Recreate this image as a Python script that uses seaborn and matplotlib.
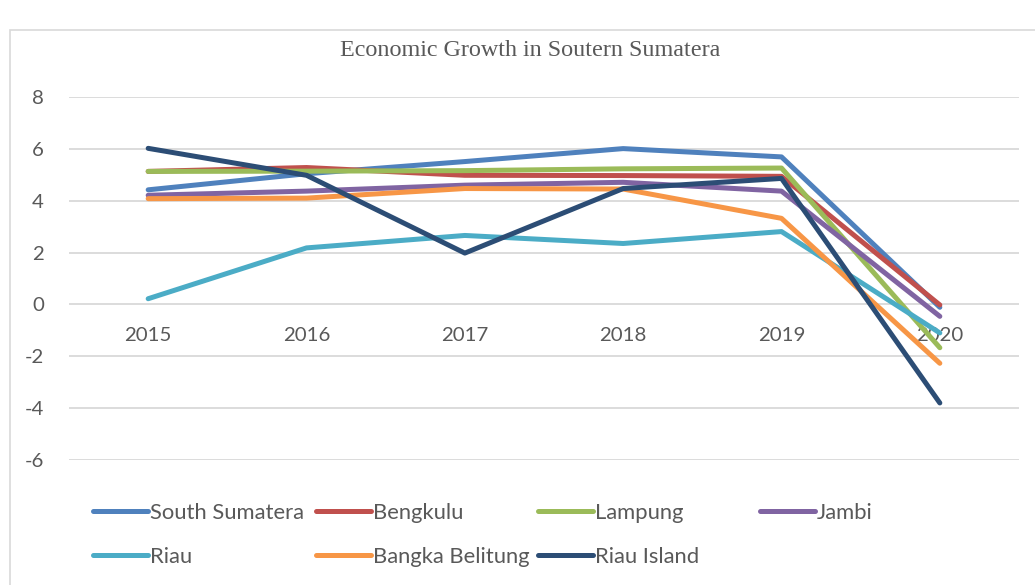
import pandas as pd
import matplotlib
matplotlib.use("Agg")
import matplotlib.pyplot as plt
import seaborn as sns
from matplotlib.patches import Rectangle

# Data (growth in %)
years = [2015, 2016, 2017, 2018, 2019, 2020]
regions = ["South Sumatera", "Bengkulu", "Lampung", "Jambi",
           "Riau", "Bangka Belitung", "Riau Island"]
south_sumatera = [4.42, 5.04, 5.51, 6.01, 5.69, -0.11]
bengkulu = [5.13, 5.28, 4.98, 4.97, 4.94, -0.02]
lampung = [5.13, 5.14, 5.16, 5.23, 5.26, -1.67]
jambi = [4.21, 4.37, 4.60, 4.71, 4.37, -0.46]
riau = [0.22, 2.18, 2.66, 2.35, 2.81, -1.10]
bangka_belitung = [4.08, 4.10, 4.47, 4.45, 3.32, -2.27]
riau_island = [6.02, 4.98, 1.98, 4.47, 4.86, -3.80]
colors = ["#4F81BD", "#C0504D", "#9BBB59", "#8064A2",
          "#4BACC6", "#F79646", "#2C4D75"]

series = [south_sumatera, bengkulu, lampung, jambi, riau, bangka_belitung, riau_island]
df = pd.DataFrame({
    "year": years * len(regions),
    "region": [r for r in regions for _ in years],
    "growth": [v for s in series for v in s],
})

sns.set_style("white")
plt.rcParams["font.family"] = ["Lato", "DejaVu Sans"]
plt.rcParams["axes.unicode_minus"] = False
text_color = "#595959"

fig = plt.figure(figsize=(10.35, 5.85), dpi=100)
# light chart border like the Excel chart area
fig.patches.append(Rectangle((10 / 1035, -0.05), 1.2, 1.05 - 30 / 585,
                             transform=fig.transFigure, fill=False,
                             edgecolor="#D9D9D9", lw=1.2))
ax = fig.add_axes([69 / 1035, 1 - 460 / 585, 950 / 1035, 363 / 585])

sns.lineplot(data=df, x="year", y="growth", hue="region", hue_order=regions,
             palette=dict(zip(regions, colors)), linewidth=3.6, sort=False,
             legend=False, ax=ax)
for ln in ax.lines:
    ln.set_solid_capstyle("round")
    ln.set_solid_joinstyle("round")

ax.set_xlim(2014.5, 2020.5)
ax.set_ylim(-6, 8)
ax.set_yticks(range(-6, 9, 2))
ax.set_xticks(years)
ax.set_xticklabels([str(y) for y in years])
ax.set_xlabel("")
ax.set_ylabel("")
ax.grid(axis="y", color="#D9D9D9", lw=1.3)
ax.grid(axis="x", visible=False)
ax.set_axisbelow(True)
for side in ax.spines:
    ax.spines[side].set_visible(False)
ax.spines["bottom"].set_position(("data", 0))
ax.tick_params(axis="x", length=0, pad=16, labelsize=14.7, labelcolor=text_color)
ax.tick_params(axis="y", length=0, pad=18, labelsize=14.7, labelcolor=text_color)

fig.text(530 / 1035, 1 - 50 / 585, "Economic Growth in Soutern Sumatera",
         ha="center", va="center", fontsize=17.4, color=text_color,
         family=["Liberation Serif", "DejaVu Serif"])

# legend laid out in an even grid, 4 per row
col_x = [93, 316, 538, 760]
row_y = [513, 557]
for i, (ln, name) in enumerate(zip(ax.lines, regions)):
    x = col_x[i % 4] / 1035
    y = 1 - row_y[i // 4] / 585
    fig.legend(handles=[ln], labels=[name], loc="center left",
               bbox_to_anchor=(x, y), frameon=False, fontsize=15.8,
               handlelength=2.5, handletextpad=0.1, borderpad=0,
               borderaxespad=0, labelcolor=text_color)

fig.savefig("out.png", dpi=100)
